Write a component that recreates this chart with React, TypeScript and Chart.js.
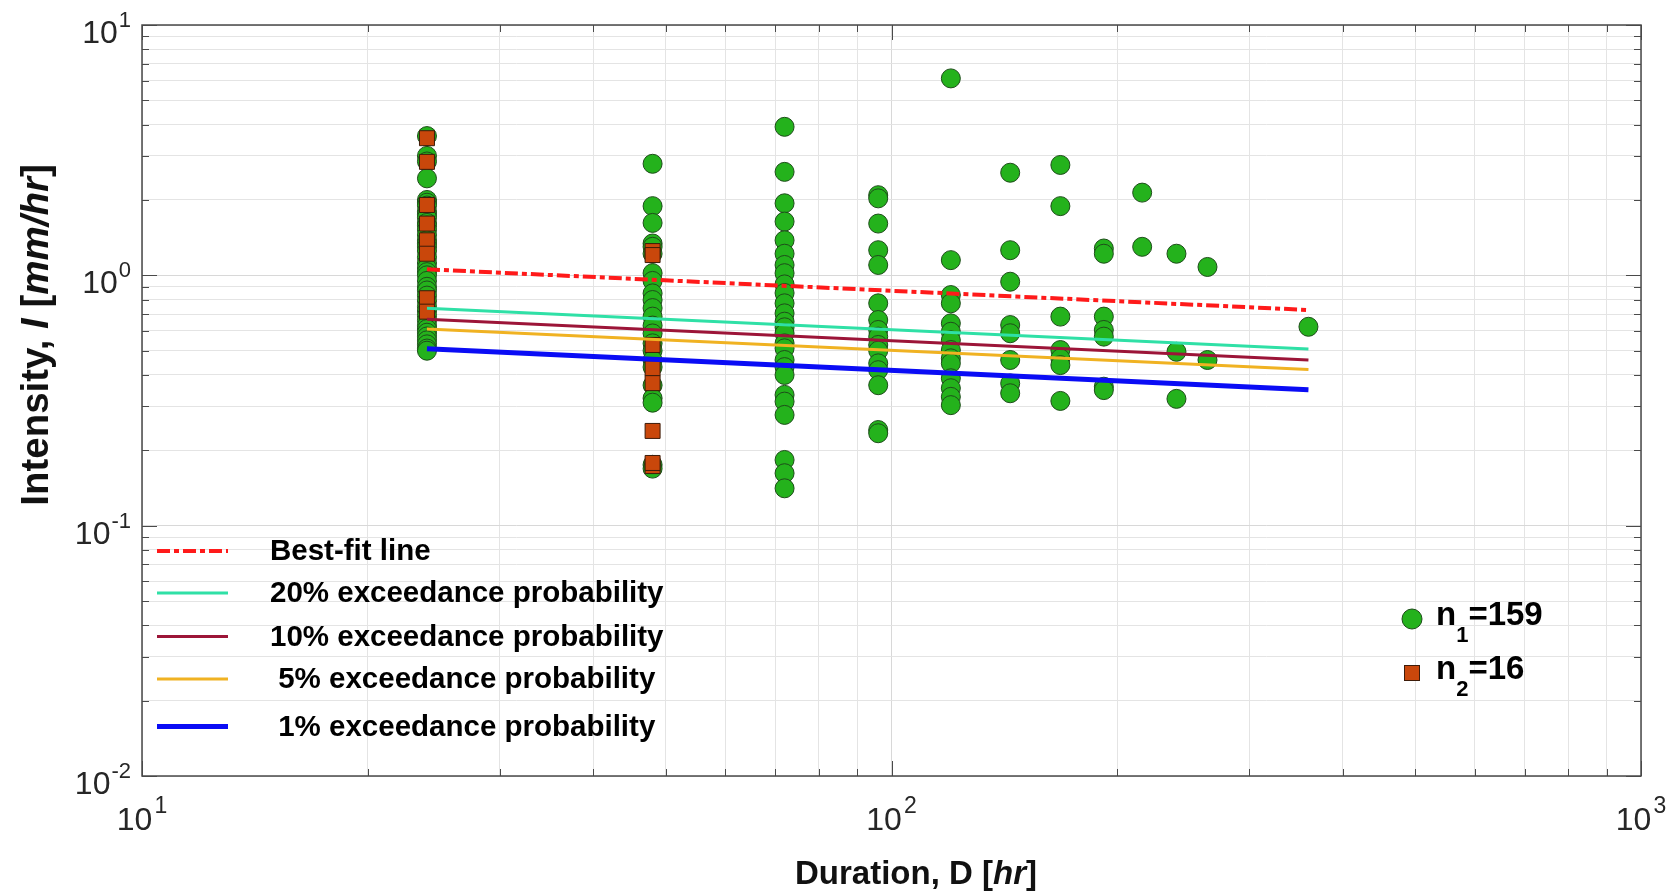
import React, { useEffect, useRef } from 'react';
import { Chart, registerables } from 'chart.js';
Chart.register(...registerables);

const FONT = "'Liberation Sans', Arial, Helvetica, sans-serif";

// ---- data ----
const durations = [24, 48, 72, 96, 120, 144, 168, 192, 216, 240, 264, 360];
const circleIntensity: number[][] = [
  [3.6, 3.0, 2.85, 2.44, 2.0, 1.95, 1.9, 1.8, 1.75, 1.7, 1.62, 1.58, 1.52, 1.45, 1.38, 1.34, 1.3, 1.25, 1.18, 1.12, 1.07, 1.03, 1.0, 0.95, 0.9, 0.87, 0.83, 0.79, 0.75, 0.72, 0.69, 0.66, 0.63, 0.61, 0.59, 0.57, 0.55, 0.53, 0.51, 0.5],
  [2.79, 1.89, 1.62, 1.34, 1.3, 1.22, 1.02, 0.95, 0.847, 0.797, 0.74, 0.684, 0.63, 0.586, 0.535, 0.5, 0.459, 0.43, 0.364, 0.323, 0.31, 0.175, 0.169],
  [3.92, 2.59, 1.94, 1.64, 1.38, 1.22, 1.1, 1.02, 0.92, 0.85, 0.773, 0.705, 0.653, 0.62, 0.587, 0.535, 0.511, 0.459, 0.43, 0.4, 0.333, 0.313, 0.277, 0.183, 0.162, 0.141],
  [2.09, 2.03, 1.61, 1.26, 1.1, 0.773, 0.663, 0.605, 0.569, 0.527, 0.5, 0.445, 0.418, 0.364, 0.241, 0.234],
  [6.12, 1.15, 0.834, 0.773, 0.643, 0.595, 0.55, 0.503, 0.466, 0.445, 0.388, 0.354, 0.327, 0.303],
  [2.57, 1.26, 0.943, 0.633, 0.587, 0.459, 0.37, 0.338],
  [2.76, 1.89, 0.684, 0.503, 0.466, 0.438, 0.315],
  [1.28, 1.22, 0.684, 0.605, 0.569, 0.359, 0.348],
  [2.14, 1.3],
  [1.22, 0.495, 0.321],
  [1.08, 0.459],
  [0.623],
];
const squareDurations = [24, 48];
const squareIntensity: number[][] = [
  [3.53, 2.84, 1.91, 1.61, 1.38, 1.22, 0.81, 0.716],
  [1.25, 1.205, 0.527, 0.425, 0.371, 0.239, 0.173, 0.178],
];
const lineDurations = [24, 360];
const bestFit = [1.057, 0.727];
const p20 = [0.738, 0.508];
const p10 = [0.667, 0.459];
const p5 = [0.61, 0.421];
const p1 = [0.509, 0.349];

const xMajor = [10, 100, 1000];
const xExp = ['1', '2', '3'];
const yMajor = [0.01, 0.1, 1, 10];
const yExp = ['-2', '-1', '0', '1'];
const minorMult = [2, 3, 4, 5, 6, 7, 8, 9];

const lineLegend = ['Best-fit line', '20% exceedance probability', '10% exceedance probability', ' 5% exceedance probability', ' 1% exceedance probability'];

const GREEN = '#24b21c';
const GREEN_EDGE = '#1e4d1a';
const ORANGE = '#c9470b';
const ORANGE_EDGE = '#3d1c0a';

function buildTicks(major: number[]) {
  const t: number[] = [];
  major.forEach((m, i) => {
    t.push(m);
    if (i < major.length - 1) minorMult.forEach((k) => t.push(m * k));
  });
  return t;
}
const xTickVals = buildTicks(xMajor);
const yTickVals = buildTicks(yMajor);

function pts(xs: number[], ys: number[]) {
  return xs.map((x, i) => ({ x, y: ys[i] }));
}

type Part = { t: string; f: string };
function drawRich(ctx: CanvasRenderingContext2D, parts: Part[], x: number, y: number, align: 'left' | 'center') {
  let w = 0;
  parts.forEach((p) => { ctx.font = p.f; w += ctx.measureText(p.t).width; });
  let cx = align === 'center' ? x - w / 2 : x;
  ctx.textAlign = 'left';
  parts.forEach((p) => { ctx.font = p.f; ctx.fillText(p.t, cx, y); cx += ctx.measureText(p.t).width; });
}

const decorPlugin = {
  id: 'decor',
  beforeDraw(chart: any) {
    const ctx = chart.ctx;
    ctx.save();
    ctx.fillStyle = '#ffffff';
    ctx.fillRect(0, 0, chart.width, chart.height);
    ctx.restore();
  },
  afterDraw(chart: any) {
    const ctx: CanvasRenderingContext2D = chart.ctx;
    const { left, right, top, bottom } = chart.chartArea;
    const xs = chart.scales.x;
    const ys = chart.scales.y;
    ctx.save();
    // inward ticks
    ctx.strokeStyle = '#4a4a4a';
    ctx.lineWidth = 1;
    ctx.beginPath();
    yTickVals.forEach((v) => {
      const py = Math.round(ys.getPixelForValue(v)) + 0.5;
      const len = yMajor.includes(v) ? 15 : 7;
      ctx.moveTo(left, py); ctx.lineTo(left + len, py);
      ctx.moveTo(right, py); ctx.lineTo(right - len, py);
    });
    xTickVals.forEach((v) => {
      const px = Math.round(xs.getPixelForValue(v)) + 0.5;
      const len = xMajor.includes(v) ? 15 : 7;
      ctx.moveTo(px, bottom); ctx.lineTo(px, bottom - len);
      ctx.moveTo(px, top); ctx.lineTo(px, top + len);
    });
    ctx.stroke();
    // box
    ctx.lineWidth = 1.5;
    ctx.strokeStyle = '#4a4a4a';
    ctx.strokeRect(left, top, right - left, bottom - top);

    // tick labels
    ctx.fillStyle = '#262626';
    ctx.textBaseline = 'alphabetic';
    ctx.textAlign = 'left';
    yMajor.forEach((v, i) => {
      const py = ys.getPixelForValue(v);
      ctx.font = `22px ${FONT}`;
      const sw = ctx.measureText(yExp[i]).width;
      const r = left - 11;
      ctx.fillText(yExp[i], r - sw, py + 2);
      ctx.font = `32px ${FONT}`;
      const bw = ctx.measureText('10').width;
      ctx.fillText('10', r - sw - bw - 1, py + 18);
    });
    xMajor.forEach((v, i) => {
      const px = xs.getPixelForValue(v);
      ctx.font = `32px ${FONT}`;
      const bw = ctx.measureText('10').width;
      ctx.font = `23px ${FONT}`;
      const sw = ctx.measureText(xExp[i]).width;
      const start = px - (bw + sw + 2) / 2;
      ctx.font = `32px ${FONT}`;
      ctx.fillText('10', start, bottom + 54);
      ctx.font = `23px ${FONT}`;
      ctx.fillText(xExp[i], start + bw + 2, bottom + 37);
    });

    // axis titles
    ctx.fillStyle = '#111111';
    const B = `bold 33px ${FONT}`;
    const BI = `italic bold 33px ${FONT}`;
    drawRich(ctx, [
      { t: 'Duration, D [', f: B },
      { t: 'hr', f: BI },
      { t: ']', f: B },
    ], 916, 884, 'center');
    const YB = `bold 38.5px ${FONT}`;
    const YBI = `italic bold 38.5px ${FONT}`;
    ctx.save();
    ctx.translate(48, 335);
    ctx.rotate(-Math.PI / 2);
    drawRich(ctx, [
      { t: 'Intensity, ', f: YB },
      { t: 'I', f: YBI },
      { t: ' [', f: YB },
      { t: 'mm/hr', f: YBI },
      { t: ']', f: YB },
    ], 0, 0, 'center');
    ctx.restore();

    // left legend (lines)
    const lineSets = chart.data.datasets.filter((d: any) => d.type === 'line');
    const rowsY = [551, 593, 636.5, 679, 726.5];
    lineSets.forEach((d: any, i: number) => {
      const y = rowsY[i];
      ctx.save();
      ctx.strokeStyle = d.borderColor;
      ctx.lineWidth = d.borderWidth;
      ctx.setLineDash(d.borderDash || []);
      ctx.beginPath();
      ctx.moveTo(157, y);
      ctx.lineTo(228, y);
      ctx.stroke();
      ctx.restore();
      ctx.fillStyle = '#000000';
      ctx.font = `bold 29.5px ${FONT}`;
      ctx.textBaseline = 'middle';
      ctx.textAlign = 'left';
      ctx.fillText(lineLegend[i], 270, y + 1);
    });

    // right legend (markers)
    ctx.textBaseline = 'alphabetic';
    ctx.beginPath();
    ctx.arc(1412, 619, 10, 0, Math.PI * 2);
    ctx.fillStyle = GREEN;
    ctx.fill();
    ctx.strokeStyle = GREEN_EDGE;
    ctx.lineWidth = 1;
    ctx.stroke();
    ctx.fillStyle = ORANGE;
    ctx.fillRect(1404.5, 665.5, 15, 15);
    ctx.strokeStyle = ORANGE_EDGE;
    ctx.strokeRect(1404.5, 665.5, 15, 15);

    ctx.fillStyle = '#000000';
    const nx = 1436;
    const drawN = (sub: string, rest: string, baseY: number) => {
      ctx.font = `bold 33px ${FONT}`;
      ctx.fillText('n', nx, baseY);
      const nw = ctx.measureText('n').width;
      ctx.font = `bold 22px ${FONT}`;
      ctx.fillText(sub, nx + nw, baseY + 17);
      const sw = ctx.measureText(sub).width;
      ctx.font = `bold 33px ${FONT}`;
      ctx.fillText(rest, nx + nw + sw, baseY);
    };
    drawN('1', '=159', 625);
    drawN('2', '=16', 679);
    ctx.restore();
  },
};

export default function App() {
  const ref = useRef<HTMLCanvasElement>(null);
  useEffect(() => {
    if (!ref.current) return;
    const circleData: { x: number; y: number }[] = [];
    durations.forEach((d, i) => circleIntensity[i].forEach((v) => circleData.push({ x: d, y: v })));
    const squareData: { x: number; y: number }[] = [];
    squareDurations.forEach((d, i) => squareIntensity[i].forEach((v) => squareData.push({ x: d, y: v })));

    const lineBase = { type: 'line', pointRadius: 0, fill: false, tension: 0, order: 0 };
    const chart = new Chart(ref.current, {
      type: 'scatter',
      data: {
        datasets: [
          { ...lineBase, label: 'Best-fit line', data: pts(lineDurations, bestFit), borderColor: '#ff1a1a', borderWidth: 4, borderDash: [13, 4, 5, 4] } as any,
          { ...lineBase, label: '20%', data: pts(lineDurations, p20), borderColor: '#2fe0a6', borderWidth: 3 } as any,
          { ...lineBase, label: '10%', data: pts(lineDurations, p10), borderColor: '#9c1538', borderWidth: 3 } as any,
          { ...lineBase, label: '5%', data: pts(lineDurations, p5), borderColor: '#f0b222', borderWidth: 3 } as any,
          { ...lineBase, label: '1%', data: pts(lineDurations, p1), borderColor: '#0a0cf5', borderWidth: 5 } as any,
          {
            label: 'n2', data: squareData, pointStyle: 'rect', pointRadius: 10.6, pointHoverRadius: 10.6,
            backgroundColor: ORANGE, borderColor: ORANGE_EDGE, borderWidth: 1, order: 1,
          } as any,
          {
            label: 'n1', data: circleData, pointStyle: 'circle', pointRadius: 9.5, pointHoverRadius: 9.5,
            backgroundColor: GREEN, borderColor: GREEN_EDGE, borderWidth: 1, order: 2,
          } as any,
        ],
      },
      options: {
        animation: false,
        responsive: false,
        devicePixelRatio: 1,
        events: [],
        layout: { padding: { left: 142, right: 36, top: 25, bottom: 118 } },
        plugins: { legend: { display: false }, tooltip: { enabled: false } },
        scales: {
          x: {
            type: 'logarithmic', min: 10, max: 1000,
            afterBuildTicks: (s: any) => { s.ticks = xTickVals.map((v) => ({ value: v, major: xMajor.includes(v) })); },
            ticks: { display: false },
            grid: {
              drawTicks: false,
              color: (c: any) => (c.tick && xMajor.includes(c.tick.value) ? '#d8d8d8' : '#e4e4e4'),
              lineWidth: 1,
            },
            border: { display: false },
            title: { display: false },
          },
          y: {
            type: 'logarithmic', min: 0.01, max: 10,
            afterBuildTicks: (s: any) => { s.ticks = yTickVals.map((v) => ({ value: v, major: yMajor.includes(v) })); },
            ticks: { display: false },
            grid: {
              drawTicks: false,
              color: (c: any) => (c.tick && yMajor.includes(c.tick.value) ? '#d8d8d8' : '#e4e4e4'),
              lineWidth: 1,
            },
            border: { display: false },
            title: { display: false },
          },
        },
      } as any,
      plugins: [decorPlugin],
    });
    return () => chart.destroy();
  }, []);
  return (
    <div style={{ position: 'fixed', left: 0, top: 0, width: 1677, height: 894, background: '#fff' }}>
      <canvas ref={ref} width={1677} height={894} style={{ width: 1677, height: 894, display: 'block' }} />
    </div>
  );
}
